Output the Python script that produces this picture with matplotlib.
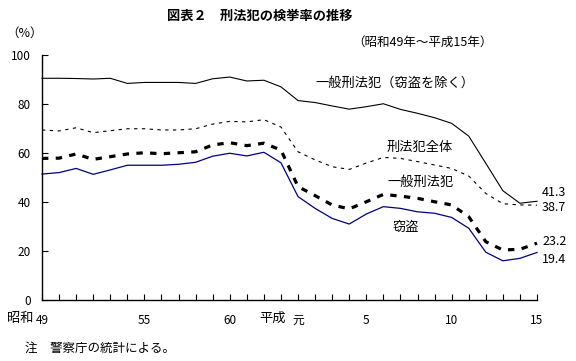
import matplotlib
matplotlib.use("Agg")
import matplotlib.pyplot as plt

plt.rcParams['font.family'] = ['Noto Sans CJK JP', 'DejaVu Sans']

# years 昭和49 (1974) .. 平成15 (2003), index 0..29
years = list(range(30))

# 一般刑法犯（窃盗を除く）
excl_theft = [90.5, 90.5, 90.4, 90.2, 90.5, 88.4, 88.8, 88.8, 88.8, 88.4,
              90.3, 91.0, 89.4, 89.7, 87.0, 81.4, 80.6, 79.2, 77.9, 78.9,
              80.1, 77.8, 76.2, 74.4, 72.1, 66.9, 55.8, 44.6, 39.5, 40.3]
# 刑法犯全体
all_crime = [69.4, 69.0, 70.3, 68.3, 69.1, 69.9, 69.9, 69.4, 69.4, 69.9,
             71.8, 72.9, 72.7, 73.6, 70.6, 60.5, 57.2, 54.4, 53.3, 55.9,
             58.2, 57.8, 56.5, 55.1, 53.7, 50.6, 43.5, 39.3, 38.8, 38.7]
# 一般刑法犯
general = [57.8, 57.9, 59.6, 57.4, 58.5, 59.6, 60.1, 59.7, 60.1, 60.5,
           63.3, 64.2, 63.0, 64.0, 61.2, 46.3, 42.6, 38.8, 37.2, 40.1,
           43.1, 42.4, 41.5, 40.1, 38.8, 34.0, 23.8, 20.4, 20.7, 23.2]
# 窃盗
theft = [51.4, 52.0, 53.7, 51.3, 53.1, 55.0, 55.0, 55.0, 55.4, 56.2,
         58.7, 59.9, 58.8, 60.3, 56.0, 42.2, 37.4, 33.3, 31.0, 35.1,
         38.1, 37.4, 36.0, 35.4, 33.7, 29.3, 19.5, 16.0, 17.0, 19.4]

tick_pos = [0, 6, 11, 15, 19, 24, 29]
tick_labels = ["49", "55", "60", "元", "5", "10", "15"]
end_labels = ["41.3", "38.7", "23.2", "19.4"]

fig = plt.figure(figsize=(5.76, 3.61), dpi=100)
ax = fig.add_axes([42 / 576, 61 / 361, 495 / 576, 245 / 361])

ax.plot(years, excl_theft, color="black", lw=0.8, clip_on=False)
ax.plot(years, all_crime, color="black", lw=0.8, linestyle=(0, (3, 4)), clip_on=False)
ax.plot(years, general, color="black", lw=2.3, linestyle=(0, (2.0, 2.3)), clip_on=False)
ax.plot(years, theft, color="#000080", lw=0.9, clip_on=False)

ax.set_xlim(0, 29)
ax.set_ylim(0, 100)
ax.set_yticks(range(0, 101, 20))
ax.set_yticklabels([str(v) for v in range(0, 101, 20)], fontsize=8.5)
ax.set_xticks(years, minor=True)
ax.set_xticks(tick_pos)
ax.set_xticklabels(tick_labels, fontsize=8.5)
ax.tick_params(axis="y", direction="in", length=4, width=0.8, pad=8)
ax.tick_params(axis="x", which="both", direction="in", length=4, width=0.8, pad=10)
for s in ["top", "right"]:
    ax.spines[s].set_visible(False)
for s in ["left", "bottom"]:
    ax.spines[s].set_linewidth(1.0)

fs = 9.5
ax.text(-0.5, -0.074, "昭和", transform=ax.get_xaxis_transform(), ha="right",
        va="center", fontsize=fs)
ax.text(14.3, -0.074, "平成", transform=ax.get_xaxis_transform(), ha="right",
        va="center", fontsize=fs)

# series labels
ax.text(20.7, 88.6, "一般刑法犯（窃盗を除く）", ha="center", va="center", fontsize=fs)
ax.text(22.1, 62.4, "刑法犯全体", ha="center", va="center", fontsize=fs)
ax.text(22.2, 47.8, "一般刑法犯", ha="center", va="center", fontsize=fs)
ax.text(21.3, 29.8, "窃盗", ha="center", va="center", fontsize=fs)

# end values
for lab, y in zip(end_labels, [43.7, 37.6, 23.7, 16.7]):
    ax.text(29.3, y, lab, ha="left", va="center", fontsize=9)

fig.text(260 / 576, 1 - 16 / 361, "図表２　刑法犯の検挙率の推移", ha="center",
         va="center", fontsize=9.5, fontweight="bold")
fig.text(6 / 576, 1 - 33 / 361, "（%）", ha="left", va="center", fontsize=9)
fig.text(352 / 576, 1 - 42 / 361, "（昭和49年～平成15年）", ha="left",
         va="center", fontsize=9)
fig.text(25 / 576, 1 - 348 / 361, "注　警察庁の統計による。", ha="left",
         va="center", fontsize=9)

fig.savefig("out.png", dpi=100)
